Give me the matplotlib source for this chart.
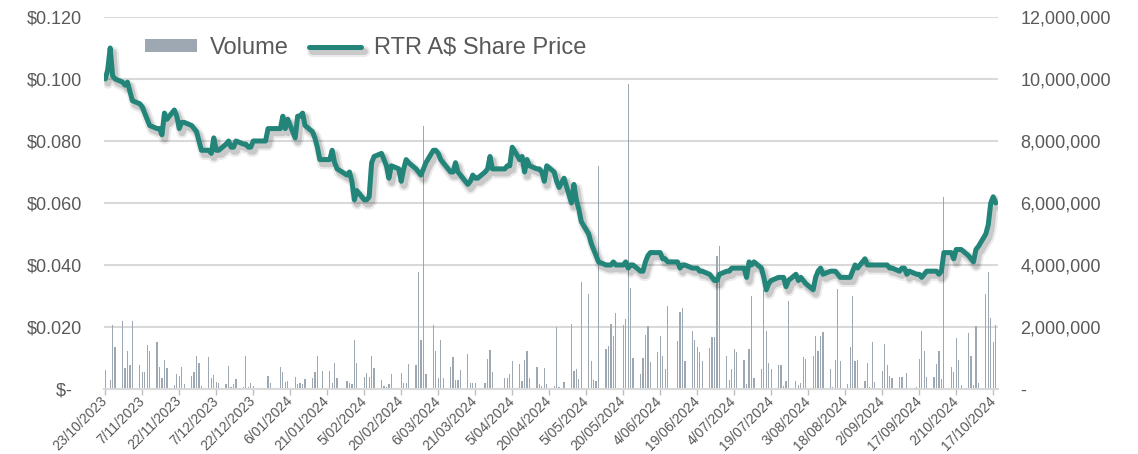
import numpy as np
import pandas as pd
import matplotlib
matplotlib.use('Agg')
import matplotlib.pyplot as plt
import matplotlib.dates as mdates
import matplotlib.patheffects as pe

plt.rcParams['font.family'] = ['Liberation Sans', 'DejaVu Sans']

# ASX trading days, 23/10/2023 - 18/10/2024
holidays = ['2023-12-25', '2023-12-26', '2024-01-01', '2024-01-26',
            '2024-03-29', '2024-04-01', '2024-04-25', '2024-06-10']
days = pd.bdate_range('2023-10-23', '2024-10-18')
days = days[~days.isin(pd.to_datetime(holidays))]

# share price (A$), one row per week
price = [
    0.100, 0.103, 0.110, 0.101, 0.100,
    0.099, 0.098, 0.099, 0.096, 0.093,
    0.092, 0.091, 0.089, 0.087, 0.085,
    0.084, 0.084, 0.082, 0.089, 0.087,
    0.090, 0.088, 0.084, 0.086, 0.086,
    0.085, 0.084, 0.083, 0.080, 0.077,
    0.077, 0.076, 0.081, 0.077, 0.077,
    0.079, 0.080, 0.078, 0.078, 0.080,
    0.079, 0.079, 0.078, 0.078, 0.080,
    0.080, 0.084, 0.084,
    0.084, 0.088, 0.084, 0.087,
    0.081, 0.088, 0.088, 0.089, 0.085,
    0.083, 0.081, 0.078, 0.074, 0.074,
    0.074, 0.077, 0.073, 0.071,
    0.069, 0.070, 0.067, 0.061, 0.064,
    0.061, 0.061, 0.062, 0.073, 0.075,
    0.076, 0.074, 0.072, 0.068, 0.072,
    0.071, 0.067, 0.071, 0.074, 0.073,
    0.071, 0.070, 0.069, 0.071, 0.073,
    0.077, 0.077, 0.076, 0.074, 0.073,
    0.070, 0.070, 0.073, 0.070, 0.069,
    0.066, 0.067, 0.069, 0.068, 0.068,
    0.070, 0.071, 0.075, 0.071,
    0.071, 0.072, 0.072, 0.078,
    0.074, 0.075, 0.070, 0.074, 0.072,
    0.071, 0.071, 0.070, 0.067, 0.072,
    0.070, 0.067, 0.065, 0.068,
    0.060, 0.066, 0.061, 0.058, 0.054,
    0.050, 0.047, 0.045, 0.043, 0.041,
    0.040, 0.040, 0.040, 0.041, 0.040,
    0.040, 0.041, 0.039, 0.040, 0.040,
    0.038, 0.038, 0.041, 0.043, 0.044,
    0.044, 0.044, 0.042, 0.042, 0.041,
    0.041, 0.039, 0.040, 0.040,
    0.039, 0.039, 0.039, 0.038, 0.038,
    0.037, 0.036, 0.035, 0.035, 0.037,
    0.038, 0.038, 0.039, 0.039, 0.039,
    0.039, 0.036, 0.041, 0.040, 0.041,
    0.039, 0.036, 0.032, 0.034, 0.035,
    0.036, 0.036, 0.036, 0.033, 0.035,
    0.037, 0.035, 0.036, 0.035, 0.034,
    0.032, 0.036, 0.038, 0.039, 0.037,
    0.038, 0.038, 0.038, 0.037, 0.036,
    0.036, 0.036, 0.038, 0.040, 0.039,
    0.042, 0.040, 0.040, 0.040, 0.040,
    0.040, 0.040, 0.040, 0.039, 0.039,
    0.038, 0.039, 0.039, 0.037, 0.038,
    0.037, 0.037, 0.036, 0.037, 0.038,
    0.038, 0.038, 0.037, 0.038, 0.044,
    0.044, 0.042, 0.045, 0.045, 0.045,
    0.043, 0.042, 0.041, 0.045, 0.046,
    0.050, 0.053, 0.060, 0.062, 0.060,
]

# daily volume (millions of shares)
volume_m = [
    0.62, 0.02, 0.29, 2.08, 1.35,
    2.18, 0.67, 1.21, 0.76, 2.20,
    0.78, 0.56, 0.54, 1.43, 1.21,
    1.51, 0.72, 0.35, 0.94, 0.69,
    0.13, 0.49, 0.43, 0.72, 0.15,
    0.42, 0.56, 1.05, 0.85, 0.11,
    1.02, 0.37, 0.45, 0.24, 0.20,
    0.16, 0.75, 0.08, 0.15, 0.32,
    0.05, 1.07, 0.08, 0.18, 0.10,
    0.03, 0.43, 0.18,
    0.72, 0.56, 0.24, 0.26,
    0.38, 0.16, 0.20, 0.16, 0.32,
    0.35, 0.54, 1.08, 0.02, 0.59,
    0.59, 0.18, 0.83, 0.37,
    0.26, 0.20, 0.16, 1.57, 0.85,
    0.38, 0.50, 0.40, 1.05, 0.67,
    0.29, 0.11, 0.08, 0.15, 0.48,
    0.02, 0.50, 0.18, 0.18, 0.81,
    0.78, 3.77, 1.57, 8.48, 0.48,
    2.08, 1.23, 0.35, 1.57, 0.37,
    0.72, 1.03, 0.29, 0.29, 0.62,
    1.12, 0.18, 0.18, 0.18, 0.04,
    0.18, 0.97, 1.26, 0.55,
    0.35, 0.35, 0.49, 0.91,
    0.81, 0.26, 0.94, 1.21, 0.37,
    0.70, 0.16, 0.11, 0.69, 0.15,
    0.10, 2.00, 0.05, 0.24,
    2.10, 0.58, 0.65, 0.31, 3.45,
    3.05, 0.91, 0.30, 0.25, 7.20,
    1.30, 1.39, 2.10, 1.70, 2.45,
    2.08, 2.27, 9.84, 3.26, 0.99,
    0.48, 0.99, 1.75, 2.02, 0.86,
    1.18, 1.72, 1.07, 0.65, 2.67,
    1.56, 2.49, 2.62, 0.91,
    1.86, 1.59, 1.37, 1.18, 0.91,
    1.32, 1.68, 1.68, 4.30, 4.60,
    1.07, 0.29, 0.64, 1.29, 1.18,
    0.94, 0.15, 1.30, 3.00, 0.35,
    0.65, 3.20, 1.86, 0.83, 0.65,
    0.78, 0.78, 0.11, 0.26, 2.85,
    0.26, 0.13, 0.18, 1.03, 0.96,
    1.05, 1.72, 1.21, 1.70, 1.84,
    0.65, 0.08, 0.94, 3.23, 0.89,
    0.16, 1.34, 3.00, 0.89, 0.94,
    0.26, 0.83, 0.08, 1.50, 0.24,
    0.58, 1.46, 0.78, 0.42, 0.37,
    0.40, 0.40, 0.04, 0.53, 0.01,
    0.05, 0.96, 1.86, 1.23, 0.40,
    0.38, 0.81, 1.21, 0.31, 6.20,
    0.72, 0.56, 1.64, 0.92, 0.13,
    1.80, 1.08, 0.13, 2.02, 0.18,
    3.08, 3.78, 2.29, 1.51, 2.08,
]

tick_dates = pd.date_range('2023-10-23', '2024-10-17', freq='15D')
tick_labels = [f"{d.day}/{d.month:02d}/{d.year}" for d in tick_dates]

price_ticks = np.arange(0, 0.121, 0.02)
vol_ticks = np.arange(0, 12.1e6, 2e6)

TEXT = '#595959'
GRID = '#D9D9D9'

x = mdates.date2num(days)
volume = np.array(volume_m) * 1e6

fig = plt.figure(figsize=(11.38, 4.54), dpi=100)
ax = fig.add_axes([0.0914, 0.1432, 0.7857, 0.8194])
ax2 = ax.twinx()
ax.set_zorder(2)
ax2.set_zorder(1)
ax.patch.set_visible(False)

bars = ax2.bar(x, volume, width=0.5, color='#9EA8B3', linewidth=0, label='Volume')
line, = ax.plot(x, price, color='#23857A', lw=3.6, solid_joinstyle='round',
                solid_capstyle='round', label='RTR A$ Share Price',
                path_effects=[pe.SimpleLineShadow(offset=(2, -3), alpha=0.08, linewidth=8),
                              pe.SimpleLineShadow(offset=(2, -3), alpha=0.14, linewidth=5),
                              pe.Normal()])

ax.set_xlim(x[0] - 0.5, x[-1] + 1.0)
ax.set_ylim(0, 0.12)
ax2.set_ylim(0, 12e6)

ax.set_yticks(price_ticks)
ax.set_yticklabels(['$-  ' if v == 0 else f'${v:.3f}' for v in price_ticks])
ax2.set_yticks(vol_ticks)
ax2.set_yticklabels(['-' if v == 0 else f'{v:,.0f}' for v in vol_ticks])
ax.tick_params(axis='y', length=0, pad=16, labelsize=13, labelcolor=TEXT)
ax2.tick_params(axis='y', length=0, pad=16, labelsize=13, labelcolor=TEXT)

ax.set_xticks(mdates.date2num(tick_dates))
ax.set_xticklabels(tick_labels, rotation=45, ha='right', va='center',
                   rotation_mode='anchor')
ax.tick_params(axis='x', length=4, width=1, color='#BFBFBF', pad=3,
               labelsize=10, labelcolor=TEXT)

ax2.yaxis.grid(True, color=GRID, lw=1.5)
ax2.set_axisbelow(True)
for s in ax.spines.values():
    s.set_visible(False)
for s in ax2.spines.values():
    s.set_visible(False)
ax.spines['bottom'].set_visible(True)
ax.spines['bottom'].set_color(GRID)
ax.spines['bottom'].set_linewidth(1.5)

ax.legend(handles=[bars, line], loc='upper left', bbox_to_anchor=(0.046, 0.946),
          frameon=False, fontsize=17, ncol=2, handlelength=2.2, handleheight=0.5,
          handletextpad=0.55, columnspacing=0.87, borderpad=0, borderaxespad=0,
          labelcolor=TEXT)

fig.savefig('out.png', dpi=100)
